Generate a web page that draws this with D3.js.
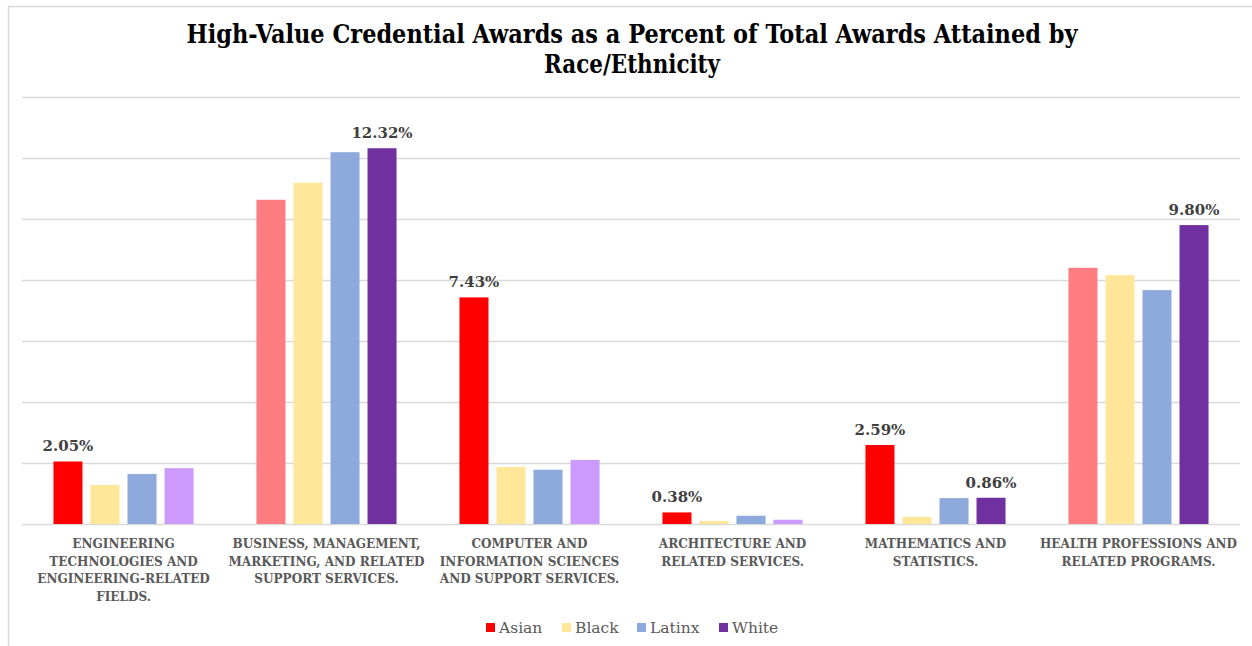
<!DOCTYPE html>
<html>
  <head>
    <title>High-Value Credential Awards</title>
    <script src="https://d3js.org/d3.v7.min.js"></script>
    <style>
      body { margin: 0; background: #fff; }
      svg text { font-family: "DejaVu Serif", serif; }
      svg text.cond { font-family: "DejaVu Serif Condensed", "DejaVu Serif", serif; font-stretch: condensed; }
    </style>
  </head>
  <body>
    <svg id="chart" width="1252" height="646"></svg>
  </body>
  <script type="text/javascript">
    var categories = [
      ["ENGINEERING", "TECHNOLOGIES AND", "ENGINEERING-RELATED", "FIELDS."],
      ["BUSINESS, MANAGEMENT,", "MARKETING, AND RELATED", "SUPPORT SERVICES."],
      ["COMPUTER AND", "INFORMATION SCIENCES", "AND SUPPORT SERVICES."],
      ["ARCHITECTURE AND", "RELATED SERVICES."],
      ["MATHEMATICS AND", "STATISTICS."],
      ["HEALTH PROFESSIONS AND", "RELATED PROGRAMS."]
    ];
    var series = ["Asian", "Black", "Latinx", "White"];
    var asian  = [2.05, 10.63, 7.43, 0.38, 2.59, 8.40];
    var black  = [1.28, 11.19, 1.87, 0.10, 0.23, 8.16];
    var latinx = [1.64, 12.19, 1.78, 0.27, 0.85, 7.67];
    var white  = [1.83, 12.32, 2.10, 0.14, 0.86, 9.80];
    // which series is labelled (and drawn in the strong colour) per category
    var labelled = [["Asian"], ["White"], ["Asian"], ["Asian"], ["Asian", "White"], ["White"]];
    var strongColors = {Asian: "#FF0000", Black: "#FFE699", Latinx: "#8EA9DB", White: "#7030A0"};
    var softColors   = {Asian: "#FF7C80", Black: "#FFE699", Latinx: "#8EA9DB", White: "#CC99FF"};
    var yTicks = [0, 2, 4, 6, 8, 10, 12, 14];
    var titleLines = ["High-Value Credential Awards as a Percent of Total Awards Attained by", "Race/Ethnicity"];

    var values = {Asian: asian, Black: black, Latinx: latinx, White: white};
    var svg = d3.select("#chart");

    // frame
    svg.append("path")
      .attr("d", "M8.5,646 V6.5 H1252")
      .attr("fill", "none")
      .attr("stroke", "#d9d9d9")
      .attr("stroke-width", 1.5);

    var x0 = d3.scaleBand()
      .domain(d3.range(categories.length))
      .range([22, 1240])
      .paddingInner(0.31)
      .paddingOuter(0.155);
    var x1 = d3.scaleBand()
      .domain(series)
      .range([0, x0.bandwidth()])
      .paddingInner(0.216);
    var y = d3.scaleLinear().domain([0, 14]).range([524, 97]);

    svg.append("g").selectAll("line")
      .data(yTicks)
      .enter().append("line")
        .attr("x1", 22).attr("x2", 1240)
        .attr("y1", function(d){ return Math.round(y(d)) + 0.5; })
        .attr("y2", function(d){ return Math.round(y(d)) + 0.5; })
        .attr("stroke", "#d9d9d9")
        .attr("stroke-width", 1.3);

    var groups = svg.append("g").selectAll("g")
      .data(categories)
      .enter().append("g")
        .attr("transform", function(d, i){ return "translate(" + x0(i) + ",0)"; });

    groups.selectAll("rect")
      .data(function(d, i){
        return series.map(function(s){
          return {s: s, v: values[s][i], hi: labelled[i].indexOf(s) >= 0};
        });
      })
      .enter().append("rect")
        .attr("x", function(d){ return x1(d.s); })
        .attr("width", x1.bandwidth())
        .attr("y", function(d){ return y(d.v); })
        .attr("height", function(d){ return y(0) - y(d.v); })
        .attr("fill", function(d){ return d.hi ? strongColors[d.s] : softColors[d.s]; });

    groups.selectAll("text.val")
      .data(function(d, i){
        return series.filter(function(s){ return labelled[i].indexOf(s) >= 0; })
          .map(function(s){ return {s: s, v: values[s][i]}; });
      })
      .enter().append("text")
        .attr("class", "val")
        .attr("x", function(d){ return x1(d.s) + x1.bandwidth() / 2; })
        .attr("y", function(d){ return y(d.v) - 10; })
        .attr("text-anchor", "middle")
        .attr("font-size", 15)
        .attr("font-weight", "bold")
        .attr("fill", "#404040")
        .text(function(d){ return d.v.toFixed(2) + "%"; });

    groups.append("text")
      .attr("class", "cond")
      .attr("text-anchor", "middle")
      .attr("font-size", 13.4)
      .attr("font-weight", "bold")
      .attr("fill", "#595959")
      .selectAll("tspan")
      .data(function(d){ return d; })
      .enter().append("tspan")
        .attr("x", x0.bandwidth() / 2)
        .attr("y", function(d, i){ return 548 + i * 17.7; })
        .text(function(d){ return d; });

    // title
    svg.append("g").selectAll("text")
      .data(titleLines)
      .enter().append("text")
        .attr("class", "cond")
        .attr("x", 632)
        .attr("y", function(d, i){ return 43 + i * 30; })
        .attr("text-anchor", "middle")
        .attr("font-size", 26).attr("font-weight", "bold").attr("fill", "#000")
        .attr("textLength", function(d, i){ return i === 0 ? 891 : 176; })
        .attr("lengthAdjust", "spacingAndGlyphs")
        .text(function(d){ return d; });

    // legend
    var legendX = [486, 562, 637, 719];
    var legend = svg.append("g").selectAll("g")
      .data(series)
      .enter().append("g")
        .attr("transform", function(d, i){ return "translate(" + legendX[i] + ",623)"; });
    legend.append("rect")
      .attr("width", 9).attr("height", 9)
      .attr("fill", function(d){ return strongColors[d]; });
    legend.append("text")
      .attr("x", 13).attr("y", 10)
      .attr("font-size", 15.5).attr("fill", "#595959")
      .text(function(d){ return d; });
  </script>
</html>
